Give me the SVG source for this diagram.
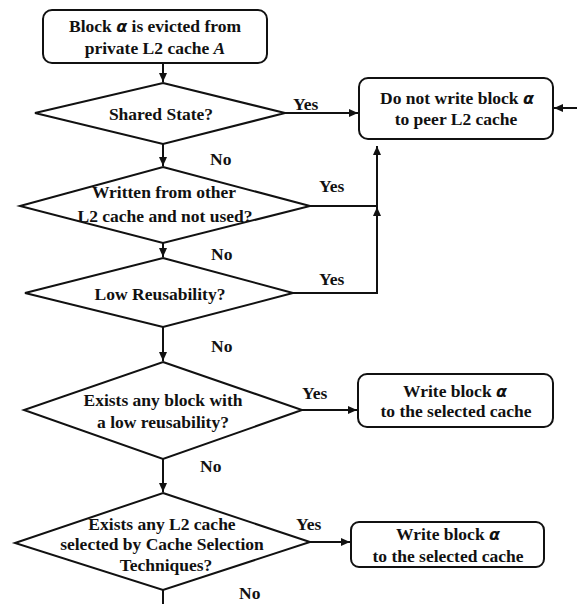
<svg xmlns="http://www.w3.org/2000/svg" width="577" height="604" viewBox="0 0 577 604">
<style>
  .shape { fill: #fff; stroke: #111; stroke-width: 2; }
  .conn { fill: none; stroke: #111; stroke-width: 2; }
  text { font-family: "Liberation Serif", "Times New Roman", serif; font-weight: bold; font-size: 17.5px; fill: #111; text-anchor: middle; }
  .lbl { text-anchor: start; }
  .greek { font-family: "DejaVu Sans", sans-serif; font-style: italic; font-size: 16px; }
  .it { font-style: italic; }
</style>
<defs>
  <marker id="ah" markerWidth="9" markerHeight="8" refX="9" refY="4" orient="auto" markerUnits="userSpaceOnUse">
    <path d="M0,0 L9,4 L0,8 z" fill="#111"/>
  </marker>
</defs>

<g id="connectors">
  <path class="conn" d="M163,63 V82" marker-end="url(#ah)"/>
  <path class="conn" d="M163,144 V166" marker-end="url(#ah)"/>
  <path class="conn" d="M163,243 V257" marker-end="url(#ah)"/>
  <path class="conn" d="M163,327 V361" marker-end="url(#ah)"/>
  <path class="conn" d="M163,459 V492" marker-end="url(#ah)"/>
  <path class="conn" d="M163,590 V604"/>
  <path class="conn" d="M285,113 H358" marker-end="url(#ah)"/>
  <path class="conn" d="M310,206 H377 V146" marker-end="url(#ah)"/>
  <path class="conn" d="M293,293 H377 V207" marker-end="url(#ah)"/>
  <path class="conn" d="M577,108 H554" marker-end="url(#ah)"/>
  <path class="conn" d="M302,410 H357" marker-end="url(#ah)"/>
  <path class="conn" d="M310,542 H350" marker-end="url(#ah)"/>
  <text class="lbl" x="293" y="110">Yes</text>
  <text class="lbl" x="210" y="165">No</text>
  <text class="lbl" x="319" y="192">Yes</text>
  <text class="lbl" x="211" y="260">No</text>
  <text class="lbl" x="319" y="285">Yes</text>
  <text class="lbl" x="211" y="352">No</text>
  <text class="lbl" x="302" y="399">Yes</text>
  <text class="lbl" x="200" y="472">No</text>
  <text class="lbl" x="296" y="530">Yes</text>
  <text class="lbl" x="239" y="599">No</text>
</g>

<g id="start">
  <rect class="shape" x="43" y="10" width="224" height="53" rx="9"/>
  <text x="155" y="32">Block <tspan class="greek">α</tspan> is evicted from</text>
  <text x="155" y="54">private L2 cache <tspan class="it">A</tspan></text>
</g>

<g id="shared">
  <polygon class="shape" points="163,83 285,113 163,144 35,113"/>
  <text x="161" y="120">Shared State?</text>
</g>

<g id="written">
  <polygon class="shape" points="163,167 310,206 163,243 20,206"/>
  <text x="164" y="198">Written from other</text>
  <text x="165" y="222">L2 cache and not used?</text>
</g>

<g id="lowreuse">
  <polygon class="shape" points="163,258 293,293 163,327 25,293"/>
  <text x="160" y="300">Low Reusability?</text>
</g>

<g id="existsblock">
  <polygon class="shape" points="163,362 302,410 163,459 24,410"/>
  <text x="163" y="406">Exists any block with</text>
  <text x="163" y="428">a low reusability?</text>
</g>

<g id="existscache">
  <polygon class="shape" points="163,493 310,542 163,590 15,543"/>
  <text x="162" y="530">Exists any L2 cache</text>
  <text x="162" y="550">selected by Cache Selection</text>
  <text x="166" y="571">Techniques?</text>
</g>

<g id="nowrite">
  <rect class="shape" x="359" y="78" width="194" height="61" rx="9"/>
  <text x="457" y="104">Do not write block <tspan class="greek">α</tspan></text>
  <text x="456" y="125">to peer L2 cache</text>
</g>

<g id="write1">
  <rect class="shape" x="358" y="374" width="195" height="53" rx="9"/>
  <text x="455" y="397">Write block <tspan class="greek">α</tspan></text>
  <text x="456" y="417">to the selected cache</text>
</g>

<g id="write2">
  <rect class="shape" x="351" y="522" width="193" height="45" rx="8"/>
  <text x="448" y="540">Write block <tspan class="greek">α</tspan></text>
  <text x="448" y="562">to the selected cache</text>
</g>
</svg>
